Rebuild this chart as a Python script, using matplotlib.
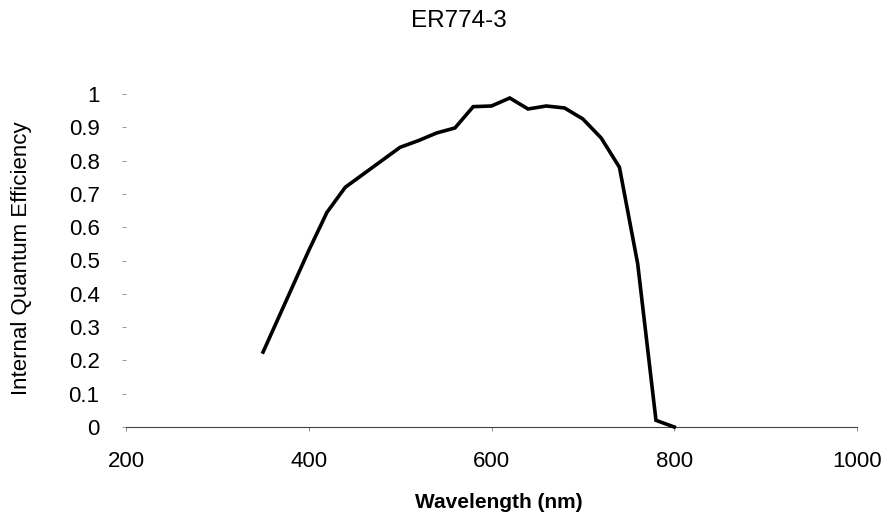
import matplotlib
matplotlib.use("Agg")
import matplotlib.pyplot as plt

wavelength_nm = [350, 400, 420, 440, 460, 480, 500, 520, 540, 560, 580, 600, 620,
                 640, 660, 680, 700, 720, 740, 760, 780, 800]
iqe = [0.225, 0.53, 0.645, 0.72, 0.76, 0.80, 0.84, 0.86, 0.883, 0.898, 0.962, 0.964, 0.988,
       0.955, 0.964, 0.958, 0.925, 0.868, 0.78, 0.49, 0.02, 0.0]

x_ticks = [200, 400, 600, 800, 1000]
y_ticks = [0, 0.1, 0.2, 0.3, 0.4, 0.5, 0.6, 0.7, 0.8, 0.9, 1]
y_tick_labels = ["0", "0.1", "0.2", "0.3", "0.4", "0.5", "0.6", "0.7", "0.8", "0.9", "1"]

plt.rcParams['font.family'] = ['Liberation Sans', 'DejaVu Sans']

W, H = 893, 516
fig = plt.figure(figsize=(W / 100, H / 100), dpi=100)
ax = fig.add_axes([126 / W, 1 - 427 / H, (857 - 126) / W, (427 - 94) / H])

ax.plot(wavelength_nm, iqe, color='black', lw=2.6, solid_joinstyle='miter', clip_on=False, zorder=3)

ax.set_xlim(200, 1000)
ax.set_ylim(0, 1)
ax.set_xticks(x_ticks)
ax.set_xticklabels([str(v) for v in x_ticks], fontsize=16)
ax.set_yticks(y_ticks)
ax.set_yticklabels(y_tick_labels, fontsize=16)

for s in ['top', 'right', 'left']:
    ax.spines[s].set_visible(False)
ax.spines['bottom'].set_color('#444444')
ax.spines['bottom'].set_linewidth(0.8)

ax.tick_params(axis='x', length=3, width=0.6, color='#777777', pad=14)
ax.tick_params(axis='y', length=3, width=0.6, color='#888888', pad=16)

fig.text(499 / W, 1 - 502 / H, "Wavelength (nm)", ha='center', va='center',
         fontsize=15, fontweight='bold')
fig.text(22 / W, 1 - 258 / H, "Internal Quantum Efficiency", ha='center', va='center',
         rotation=90, fontsize=16)
fig.text(459 / W, 1 - 21 / H, "ER774-3", ha='center', va='center', fontsize=17.5)

fig.savefig("out.png", dpi=100)
